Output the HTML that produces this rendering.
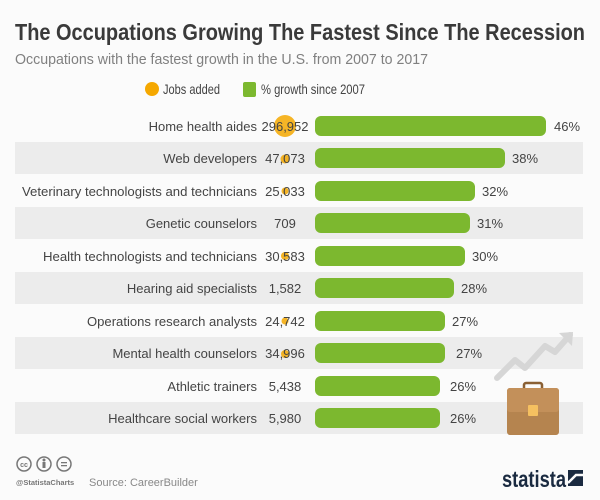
<!DOCTYPE html>
<html><head><meta charset="utf-8"><style>
body{margin:0;background:#fbfbfb}
svg{display:block;font-family:"Liberation Sans",sans-serif}
</style></head><body>
<svg width="600" height="500" viewBox="0 0 600 500">
<rect width="600" height="500" fill="#fbfbfb"/>
<text x="15" y="40" font-size="23" font-weight="bold" fill="#3a3a3a" textLength="570" lengthAdjust="spacingAndGlyphs">The Occupations Growing The Fastest Since The Recession</text>
<text x="15" y="64" font-size="15" fill="#808080" textLength="413" lengthAdjust="spacingAndGlyphs">Occupations with the fastest  growth in the U.S. from 2007 to 2017</text>
<circle cx="152" cy="89" r="7" fill="#f5a800"/>
<text x="163" y="94" font-size="14" fill="#444" textLength="57" lengthAdjust="spacingAndGlyphs">Jobs added</text>
<rect x="243" y="82" width="13" height="15" rx="2" fill="#7cb82f"/>
<text x="261" y="94" font-size="14" fill="#444" textLength="104" lengthAdjust="spacingAndGlyphs">% growth since 2007</text>
<g fill="#ececec">
<rect x="15" y="142" width="568" height="32"/>
<rect x="15" y="207" width="568" height="32"/>
<rect x="15" y="272" width="568" height="32"/>
<rect x="15" y="337" width="568" height="32"/>
<rect x="15" y="402" width="568" height="32"/>
</g>
<g fill="#f5a800" opacity="0.85">
<circle cx="285" cy="126" r="11"/>
<circle cx="285" cy="159" r="4.5"/>
<circle cx="285" cy="191" r="3.5"/>
<circle cx="285" cy="256" r="4"/>
<circle cx="285" cy="321" r="3.5"/>
<circle cx="285" cy="354" r="4"/>
</g>
<g fill="#7cb82f">
<rect x="315" y="116" width="231" height="20" rx="6"/>
<rect x="315" y="148" width="190" height="20" rx="6"/>
<rect x="315" y="181" width="160" height="20" rx="6"/>
<rect x="315" y="213" width="155" height="20" rx="6"/>
<rect x="315" y="246" width="150" height="20" rx="6"/>
<rect x="315" y="278" width="139" height="20" rx="6"/>
<rect x="315" y="311" width="130" height="20" rx="6"/>
<rect x="315" y="343" width="130" height="20" rx="6"/>
<rect x="315" y="376" width="125" height="20" rx="6"/>
<rect x="315" y="408" width="125" height="20" rx="6"/>
</g>
<g font-size="13" fill="#444" text-anchor="end">
<text x="257" y="131">Home health aides</text>
<text x="257" y="163">Web developers</text>
<text x="257" y="196" textLength="235" lengthAdjust="spacingAndGlyphs">Veterinary technologists and technicians</text>
<text x="257" y="228">Genetic counselors</text>
<text x="257" y="261" textLength="214" lengthAdjust="spacingAndGlyphs">Health technologists and technicians</text>
<text x="257" y="293">Hearing aid specialists</text>
<text x="257" y="326" textLength="170" lengthAdjust="spacingAndGlyphs">Operations research analysts</text>
<text x="257" y="358">Mental health counselors</text>
<text x="257" y="391">Athletic trainers</text>
<text x="257" y="423">Healthcare social workers</text>
</g>
<g font-size="13" fill="#444" text-anchor="middle">
<text x="285" y="131">296,952</text>
<text x="285" y="163">47,073</text>
<text x="285" y="196">25,033</text>
<text x="285" y="228">709</text>
<text x="285" y="261">30,583</text>
<text x="285" y="293">1,582</text>
<text x="285" y="326">24,742</text>
<text x="285" y="358">34,996</text>
<text x="285" y="391">5,438</text>
<text x="285" y="423">5,980</text>
</g>
<g font-size="13" fill="#444">
<text x="554" y="131">46%</text>
<text x="512" y="163">38%</text>
<text x="482" y="196">32%</text>
<text x="477" y="228">31%</text>
<text x="472" y="261">30%</text>
<text x="461" y="293">28%</text>
<text x="452" y="326">27%</text>
<text x="456" y="358">27%</text>
<text x="450" y="391">26%</text>
<text x="450" y="423">26%</text>
</g>
<polyline points="497,378 515,360 525,368 545,346 555,352 570,335" fill="none" stroke="#d6d6d6" stroke-width="6" stroke-linecap="round" stroke-linejoin="round"/>
<polygon points="559,333 573,332 572,346" fill="#d6d6d6"/>
<rect x="524" y="383" width="18" height="9" rx="2" fill="none" stroke="#8a6034" stroke-width="2.5"/>
<rect x="507" y="388" width="52" height="47" rx="3" fill="#b5844f"/>
<rect x="507" y="388" width="52" height="24" rx="3" fill="#c3905a"/>
<rect x="528" y="405" width="10" height="11" rx="1" fill="#f5c060"/>
<g fill="none" stroke="#777" stroke-width="1.5">
<circle cx="24" cy="464" r="7"/><circle cx="44" cy="464" r="7"/><circle cx="64" cy="464" r="7"/>
</g>
<text x="24" y="467" font-size="7" fill="#777" text-anchor="middle" font-weight="bold">cc</text>
<circle cx="44" cy="460" r="1.5" fill="#777"/><rect x="42.5" y="462" width="3" height="6" fill="#777"/>
<rect x="61" y="462" width="6" height="1.3" fill="#777"/><rect x="61" y="465" width="6" height="1.3" fill="#777"/>
<text x="16" y="485" font-size="7.5" font-weight="bold" fill="#777">@StatistaCharts</text>
<text x="89" y="486" font-size="11" fill="#888">Source: CareerBuilder</text>
<text x="502" y="487" font-size="23" font-weight="bold" fill="#1a2a40" textLength="64" lengthAdjust="spacingAndGlyphs">statista</text>
<rect x="568" y="470" width="15" height="16" fill="#1a2a40"/>
<path d="M568,483 L576,475 L583,475" stroke="#fbfbfb" stroke-width="2.5" fill="none"/>
</svg>
</body></html>
